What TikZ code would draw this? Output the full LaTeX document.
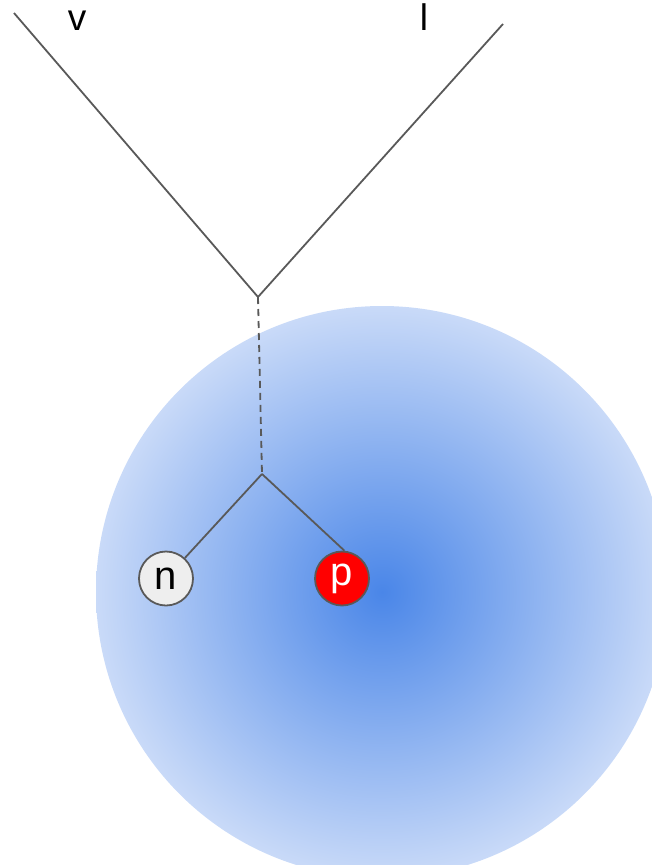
\documentclass[tikz,border=0pt]{standalone}
\usepackage{fontspec}
\setmainfont{Liberation Sans}
\usepackage{xcolor}
\usetikzlibrary{positioning}
\definecolor{linegray}{HTML}{595959}
\definecolor{coreblue}{HTML}{4A86E8}
\definecolor{rimblue}{HTML}{C9DAF8}
\definecolor{protonred}{HTML}{FF0000}
\definecolor{neutrongray}{HTML}{EEEEEE}

\begin{document}
\begin{tikzpicture}[
      x=1pt, y=-1pt,
      lepton/.style={
        font=\fontsize{37}{40}\selectfont,
        inner sep=0pt
      },
      nucleon/.style={
        circle,
        draw=linegray,
        line width=1.8pt,
        minimum size=54pt,
        inner sep=0pt,
        font=\fontsize{40}{44}\selectfont
      },
      leg/.style={
        draw=linegray,
        line width=1.8pt
      }
    ]
    \useasboundingbox (0,0) rectangle (652,865);
    \begin{scope}
      \clip (0,0) rectangle (652,865);
      \shade[inner color=coreblue, outer color=rimblue] (382,592) circle (286pt);
    \end{scope}
    \node[lepton] (v) at (77,21) {v};
    \node[lepton] (l) at (424,17.5) {l};
    \coordinate (vtip) at (14,13);
    \coordinate (ltip) at (503,24);
    \coordinate (meet) at (258,297);
    \coordinate (fork) at (262,474);
    \node[nucleon, fill=neutrongray] (n) at (166,578.5) {n};
    \node[nucleon, fill=protonred, text=white] (p) at (342,578.5) {p};
    \draw[leg] (vtip) -- (meet) -- (ltip);
    \draw[leg, dash pattern=on 7pt off 5pt] (meet) -- (fork);
    \draw[leg] (fork) -- (n);
    \draw[leg] (fork) -- (p.85);
  \end{tikzpicture}
\end{document}
